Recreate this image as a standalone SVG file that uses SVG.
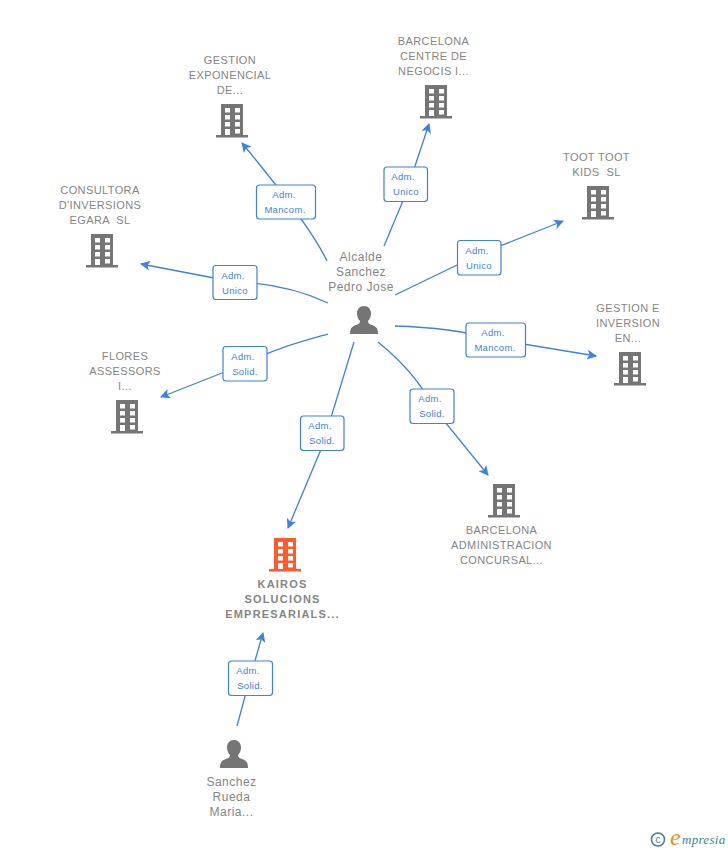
<svg xmlns="http://www.w3.org/2000/svg" width="728" height="850" viewBox="0 0 728 850">
<style>
text{font-family:"Liberation Sans",Arial,sans-serif;white-space:pre}
.n{font-size:11px;fill:#858585;text-anchor:middle;letter-spacing:.4px}
.p{font-size:12px;letter-spacing:.5px}
.b{font-weight:bold;letter-spacing:1.2px}
.e{fill:none;stroke:#3c82e4;stroke-width:1.3}
.l rect{fill:#fff;stroke:#3c82e4;stroke-width:1.2}
.l text{font-size:9.5px;fill:#3c82e4;text-anchor:middle;letter-spacing:.3px}
.g{fill:#757575}
.o{fill:#ff5a2b}
</style>
<defs>
<marker id="a" markerWidth="11" markerHeight="10" refX="9" refY="5" orient="auto" markerUnits="userSpaceOnUse"><path d="M0 0L10 5L0 10L2.500 5Z" fill="#3c82e4"/></marker>
<g id="bld">
<path fill-rule="evenodd" d="M-11 0H11V31H16V33.500H-16V31H-11ZM-7 4V8.500H-2V4ZM3 4V8.500H8V4ZM-7 11V15.500H-2V11ZM3 11V15.500H8V11ZM-7 18V22.500H-2V18ZM3 18V22.500H8V18ZM-7 25V31H-2V25ZM3 25V29.500H8V25Z"/>
</g>
<path id="per" d="M0 0C4.500 0 7 3.200 7 7.500C7 11 5.500 13.500 4 15C4 17 5 18 8 19C12 20.500 14 22 14 28H-14C-14 22 -12 20.500 -8 19C-5 18 -4 17 -4 15C-5.500 13.500 -7 11 -7 7.500C-7 3.200 -4.500 0 0 0Z"/>
</defs>
<g id="connectors">
<path class="e" d="M327 261C318 242 300 213 242 143" marker-end="url(#a)"/>
<path class="e" d="M384 246L405 196L429 124" marker-end="url(#a)"/>
<path class="e" d="M395 295L480 254L563 221" marker-end="url(#a)"/>
<path class="e" d="M395 326C430 327 460 330 493 339L596 356" marker-end="url(#a)"/>
<path class="e" d="M378 342C400 360 420 380 432 406L488 475" marker-end="url(#a)"/>
<path class="e" d="M354 342L322 447L288 528" marker-end="url(#a)"/>
<path class="e" d="M328 334C300 342 270 350 245 364L161 397" marker-end="url(#a)"/>
<path class="e" d="M328 303C300 290 270 283 235 282L141 264" marker-end="url(#a)"/>
<path class="e" d="M237 726L250 678L263 633" marker-end="url(#a)"/>
</g>
<g class="l">
<g id="edge-label-1"><rect x="256.500" y="185" width="59" height="34" rx="3"/><text x="284" y="198">Adm.</text><text x="285" y="213">Mancom.</text></g>
<g id="edge-label-2"><rect x="384" y="167" width="43.500" height="34.500" rx="3"/><text x="403" y="180">Adm.</text><text x="406" y="195">Unico</text></g>
<g id="edge-label-3"><rect x="457.500" y="240.500" width="43.500" height="34.500" rx="3"/><text x="477" y="254">Adm.</text><text x="479" y="269">Unico</text></g>
<g id="edge-label-4"><rect x="466" y="323" width="59.500" height="34" rx="3"/><text x="493" y="336">Adm.</text><text x="495" y="351">Mancom.</text></g>
<g id="edge-label-5"><rect x="410" y="389" width="44" height="34.500" rx="3"/><text x="430" y="402">Adm.</text><text x="432" y="417">Solid.</text></g>
<g id="edge-label-6"><rect x="300.500" y="416" width="43.500" height="34.500" rx="3"/><text x="320" y="429">Adm.</text><text x="322" y="444">Solid.</text></g>
<g id="edge-label-7"><rect x="223" y="346.500" width="44" height="34.500" rx="3"/><text x="243" y="360">Adm.</text><text x="245" y="375">Solid.</text></g>
<g id="edge-label-8"><rect x="213" y="265.500" width="44" height="34" rx="3"/><text x="233" y="279">Adm.</text><text x="235" y="294">Unico</text></g>
<g id="edge-label-9"><rect x="228.500" y="661" width="44" height="34.500" rx="3"/><text x="248" y="674">Adm.</text><text x="250" y="689">Solid.</text></g>
</g>
<g id="node-center"><text class="n p" x="361" y="261">Alcalde</text><text class="n p" x="361" y="276">Sanchez</text><text class="n p" x="361" y="291">Pedro Jose</text><use href="#per" class="g" x="364" y="306"/></g>
<g id="node-gestion-exp"><text class="n" x="230" y="64">GESTION</text><text class="n" x="230" y="79">EXPONENCIAL</text><text class="n" x="230" y="94">DE...</text><use href="#bld" class="g" x="232" y="104"/></g>
<g id="node-bcn-centre"><text class="n" x="433.500" y="45">BARCELONA</text><text class="n" x="433.500" y="60">CENTRE DE</text><text class="n" x="433.500" y="75">NEGOCIS I...</text><use href="#bld" class="g" x="436" y="85"/></g>
<g id="node-toot"><text class="n" x="596.500" y="161">TOOT TOOT</text><text class="n" x="596.500" y="176">KIDS  SL</text><use href="#bld" class="g" x="598" y="186"/></g>
<g id="node-gestion-inv"><text class="n" x="628" y="312">GESTION E</text><text class="n" x="628" y="327">INVERSION</text><text class="n" x="628" y="342">EN...</text><use href="#bld" class="g" x="630" y="352"/></g>
<g id="node-bcn-adm"><use href="#bld" class="g" x="504" y="484"/><text class="n" x="501.500" y="534">BARCELONA</text><text class="n" x="501.500" y="549">ADMINISTRACION</text><text class="n" x="501.500" y="564">CONCURSAL...</text></g>
<g id="node-kairos"><use href="#bld" class="o" x="285" y="538"/><text class="n b" x="282.500" y="588">KAIROS</text><text class="n b" x="282.500" y="603">SOLUCIONS</text><text class="n b" x="282.500" y="618">EMPRESARIALS...</text></g>
<g id="node-flores"><text class="n" x="125" y="360">FLORES</text><text class="n" x="125" y="375">ASSESSORS</text><text class="n" x="125" y="390">I...</text><use href="#bld" class="g" x="127" y="400"/></g>
<g id="node-consultora"><text class="n" x="100" y="194">CONSULTORA</text><text class="n" x="100" y="209">D'INVERSIONS</text><text class="n" x="100" y="224">EGARA  SL</text><use href="#bld" class="g" x="102" y="234"/></g>
<g id="node-sanchez"><use href="#per" class="g" x="234" y="740"/><text class="n p" x="231.500" y="786">Sanchez</text><text class="n p" x="231.500" y="801">Rueda</text><text class="n p" x="231.500" y="816">Maria...</text></g>
<g id="watermark"><circle cx="658" cy="839.500" r="6.500" fill="none" stroke="#3d7f9c" stroke-width="1.500"/><text x="658" y="843" font-size="10" fill="#3d7f9c" text-anchor="middle">c</text><text x="670" y="845" font-size="24" font-style="italic" fill="#f08a1d" style="font-family:'Liberation Serif',serif">e</text><text x="682" y="844" font-size="13" font-style="italic" fill="#3d7f9c" style="font-family:'Liberation Serif',serif" letter-spacing=".3">mpresia</text></g>
</svg>
